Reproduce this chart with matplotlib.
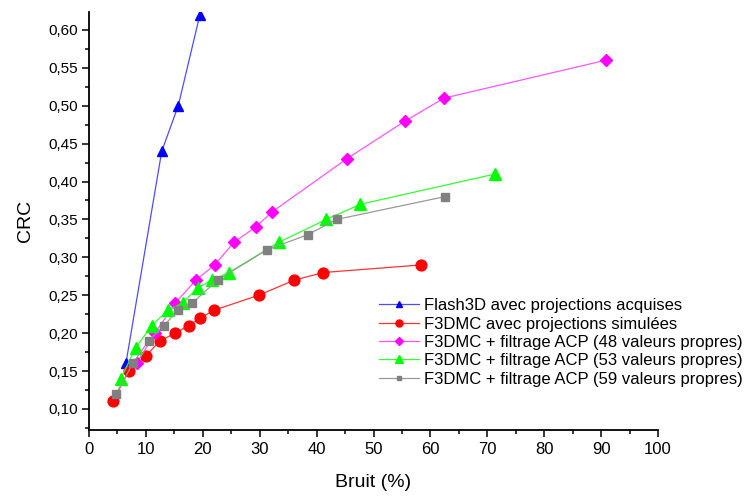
import matplotlib.pyplot as plt
from matplotlib.ticker import MultipleLocator, FuncFormatter

plt.rcParams['font.family'] = ['Liberation Sans', 'DejaVu Sans']

# Flash3D avec projections acquises
flash_x = [6.5, 12.8, 15.7, 19.5]
flash_y = [0.16, 0.44, 0.50, 0.62]

# F3DMC avec projections simulees
sim_x = [4.2, 7.0, 10.0, 12.5, 15.2, 17.5, 19.6, 21.9, 29.8, 36.1, 41.2, 58.4]
sim_y = [0.11, 0.15, 0.17, 0.19, 0.20, 0.21, 0.22, 0.23, 0.25, 0.27, 0.28, 0.29]

# ACP 48 valeurs propres
acp48_x = [8.4, 11.6, 15.2, 18.8, 22.1, 25.5, 29.3, 32.2, 45.3, 55.6, 62.4, 90.8]
acp48_y = [0.16, 0.20, 0.24, 0.27, 0.29, 0.32, 0.34, 0.36, 0.43, 0.48, 0.51, 0.56]

# ACP 53 valeurs propres
acp53_x = [5.6, 8.2, 11.0, 13.9, 16.5, 19.1, 21.7, 24.6, 33.4, 41.7, 47.7, 71.4]
acp53_y = [0.14, 0.18, 0.21, 0.23, 0.24, 0.26, 0.27, 0.28, 0.32, 0.35, 0.37, 0.41]

# ACP 59 valeurs propres
acp59_x = [4.8, 7.7, 10.5, 13.2, 15.6, 18.2, 22.6, 31.3, 38.5, 43.5, 62.5]
acp59_y = [0.12, 0.16, 0.19, 0.21, 0.23, 0.24, 0.27, 0.31, 0.33, 0.35, 0.38]

labels = ['Flash3D avec projections acquises',
          'F3DMC avec projections simulées',
          'F3DMC + filtrage ACP (48 valeurs propres)',
          'F3DMC + filtrage ACP (53 valeurs propres)',
          'F3DMC + filtrage ACP (59 valeurs propres)']

fig = plt.figure(figsize=(7.47, 4.97), dpi=100)
ax = fig.add_axes([0.119, 0.135, 0.762, 0.841])

ax.plot(flash_x, flash_y, '-', color='#4d4dff', lw=0.9, marker='^', ms=7.5,
        mfc='#0000ff', mec='#0000ff', label=labels[0])
ax.plot(sim_x, sim_y, '-', color='#ff3333', lw=0.9, marker='o', ms=7.8,
        mfc='#ff0000', mec='#ff0000', label=labels[1])
ax.plot(acp48_x, acp48_y, '-', color='#ff55ff', lw=0.9, marker='D', ms=6.3,
        mfc='#ff00ff', mec='#ff00ff', label=labels[2])
ax.plot(acp53_x, acp53_y, '-', color='#33ff33', lw=0.9, marker='^', ms=8,
        mfc='#00ff00', mec='#00ff00', label=labels[3])
ax.plot(acp59_x, acp59_y, '-', color='#999999', lw=0.9, marker='s', ms=5.5,
        mfc='#808080', mec='#808080', label=labels[4])

ax.set_xlim(0, 100)
ax.set_ylim(0.0724, 0.6237)
ax.xaxis.set_major_locator(MultipleLocator(10))
ax.xaxis.set_minor_locator(MultipleLocator(5))
ax.yaxis.set_major_locator(MultipleLocator(0.05))
ax.yaxis.set_minor_locator(MultipleLocator(0.025))
ax.yaxis.set_major_formatter(FuncFormatter(lambda v, p: ('%.2f' % v).replace('.', ',')))

for s in ['top', 'right']:
    ax.spines[s].set_visible(False)
for s in ['left', 'bottom']:
    ax.spines[s].set_linewidth(1.3)
ax.tick_params(which='major', direction='out', length=5, width=1.1)
ax.tick_params(which='minor', direction='out', length=3, width=1.1)
ax.tick_params(axis='x', labelsize=12, pad=4)
ax.tick_params(axis='y', labelsize=11, pad=3)

ax.set_xlabel('Bruit (%)', fontsize=14, labelpad=12)
ax.set_ylabel('CRC', fontsize=14, labelpad=10)

ax.legend(loc='upper left', bbox_to_anchor=(0.508, 0.40), bbox_transform=fig.transFigure,
          frameon=False, fontsize=12, handlelength=2.4, handletextpad=0.3,
          borderpad=0, borderaxespad=0, labelspacing=0.2, markerscale=0.65)

fig.savefig('out.png', dpi=100)
